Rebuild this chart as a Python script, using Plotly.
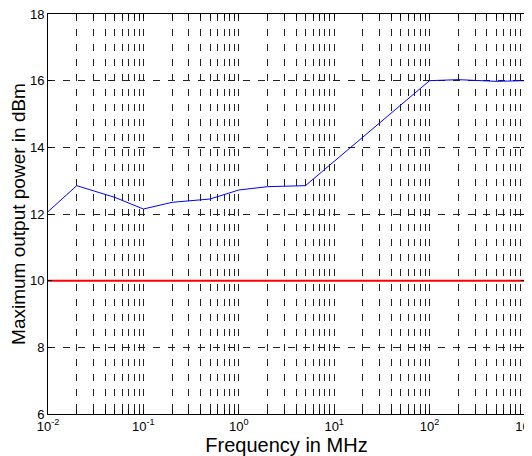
import plotly.graph_objects as go

freq_mhz = [0.01, 0.02, 0.05, 0.1, 0.2, 0.5, 1, 2, 5, 100, 200, 500, 1000]
power_dbm = [12.07, 12.85, 12.5, 12.15, 12.35, 12.45, 12.72, 12.82, 12.85, 16.0, 16.03, 15.98, 16.0]
limit_x = [0.01, 1000]
limit_y = [10, 10]

decades = [-2, -1, 0, 1, 2, 3]
x_ticks = []
x_text = []
for d in decades:
    for m in range(1, 10):
        if d == 3 and m > 1:
            break
        x_ticks.append(m * 10.0 ** d)
        x_text.append("10<sup>%d</sup>" % d if m == 1 else "")
y_ticks = [6, 8, 10, 12, 14, 16, 18]

fig = go.Figure()
fig.add_trace(go.Scatter(x=limit_x, y=limit_y, mode="lines",
                         line=dict(color="#ff0000", width=2), showlegend=False))
fig.add_trace(go.Scatter(x=freq_mhz, y=power_dbm, mode="lines",
                         line=dict(color="#0000ff", width=1), showlegend=False))

font = "Liberation Sans, Arial, sans-serif"
fig.update_layout(
    width=524, height=448,
    margin=dict(l=40, r=7, t=6, b=42),
    paper_bgcolor="white", plot_bgcolor="white",
    font=dict(family=font, color="black", size=13),
    xaxis=dict(type="log", range=[-2, 3.0005], tickmode="array", tickvals=x_ticks, ticktext=x_text,
               showgrid=True, gridcolor="#222", gridwidth=0.7, griddash="7px,8px",
               ticks="inside", ticklen=4, tickcolor="black", mirror="allticks",
               showline=True, linecolor="black", linewidth=1, zeroline=False,
               automargin=False, ticklabeloverflow="allow",
               title=dict(text="Frequency in MHz", font=dict(size=20), standoff=0),
               tickfont=dict(size=13)),
    yaxis=dict(range=[6, 18], tickmode="array", tickvals=y_ticks,
               showgrid=True, gridcolor="#222", gridwidth=0.7, griddash="7px,8px",
               ticks="inside", ticklen=4, tickcolor="black", mirror="allticks",
               showline=True, linecolor="black", linewidth=1, zeroline=False,
               automargin=False, ticklabeloverflow="allow",
               title=dict(text="Maximum output power in dBm", font=dict(size=19), standoff=3),
               tickfont=dict(size=13)),
)
fig.write_html("out.html")
